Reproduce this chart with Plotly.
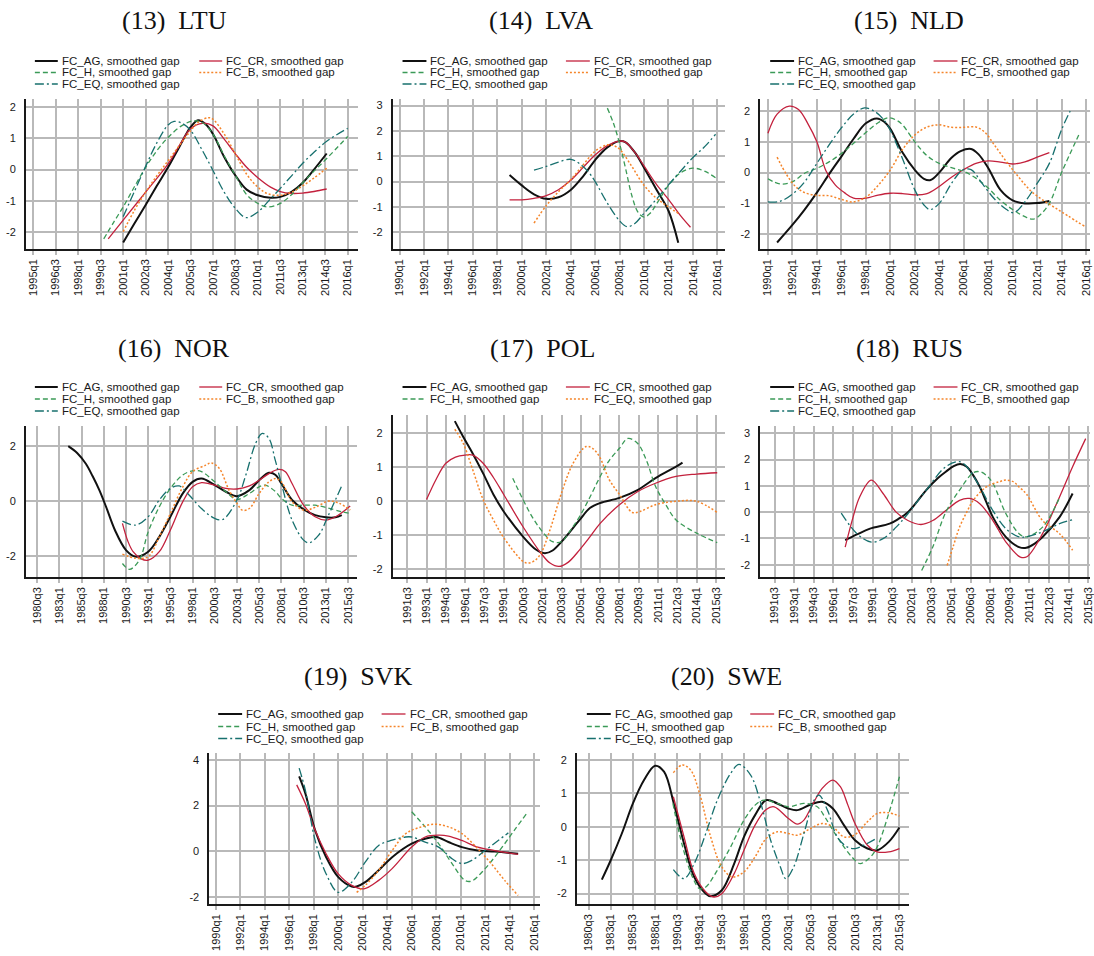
import plotly.graph_objects as go

W, H = 1094, 956

# ---------------- tick labels ----------------
TICKS_LTU = ["1995q1", "1996q3", "1998q1", "1999q3", "2001q1", "2002q3", "2004q1", "2005q3",
             "2007q1", "2008q3", "2010q1", "2011q3", "2013q1", "2014q3", "2016q1"]
TICKS_EVEN = ["1990q1", "1992q1", "1994q1", "1996q1", "1998q1", "2000q1", "2002q1", "2004q1",
              "2006q1", "2008q1", "2010q1", "2012q1", "2014q1", "2016q1"]
TICKS_80 = ["1980q3", "1983q1", "1985q3", "1988q1", "1990q3", "1993q1", "1995q3", "1998q1",
            "2000q3", "2003q1", "2005q3", "2008q1", "2010q3", "2013q1", "2015q3"]
TICKS_91 = ["1991q3", "1993q1", "1994q3", "1996q1", "1997q3", "1999q1", "2000q3", "2002q1",
            "2003q3", "2005q1", "2006q3", "2008q1", "2009q3", "2011q1", "2012q3", "2014q1", "2015q3"]

# ---------------- data: (year, smoothed gap) ----------------
LTU_AG = [(2001.0,-2.32),(2001.75,-1.72),(2002.5,-1.13),(2003.25,-0.52),(2004.0,0.07),(2004.75,0.72),
          (2005.5,1.35),(2006.0,1.57),(2006.5,1.45),(2007.0,1.13),(2007.75,0.4),(2008.5,-0.19),
          (2009.25,-0.64),(2010.0,-0.82),(2010.85,-0.9),(2011.5,-0.87),(2012.25,-0.71),(2013.0,-0.42),
          (2013.75,0.0),(2014.6,0.51)]
LTU_CR = [(2000.0,-2.21),(2001.0,-1.61),(2002.5,-0.72),(2004.0,0.18),(2004.8,0.8),(2005.5,1.3),
          (2006.3,1.47),(2007.0,1.39),(2007.75,0.97),(2008.5,0.5),(2009.25,0.07),(2010.0,-0.26),
          (2010.85,-0.56),(2011.5,-0.7),(2012.25,-0.76),(2013.0,-0.75),(2013.75,-0.7),(2014.6,-0.62)]
LTU_H = [(1999.7,-2.21),(2000.4,-1.65),(2001.0,-1.19),(2001.75,-0.55),(2002.5,0.07),(2003.25,0.6),
         (2004.0,1.02),(2004.9,1.39),(2005.7,1.55),(2006.3,1.49),(2007.0,1.13),(2007.75,0.44),
         (2008.5,-0.19),(2009.25,-0.8),(2010.0,-1.08),(2010.65,-1.19),(2011.5,-1.08),(2012.25,-0.8),
         (2013.0,-0.42),(2013.75,-0.05),(2014.6,0.35),(2016.0,1.05)]
LTU_B = [(2001.0,-1.98),(2001.75,-1.3),(2002.5,-0.72),(2003.25,-0.2),(2004.0,0.28),(2004.75,0.76),
         (2005.5,1.23),(2006.0,1.5),(2006.7,1.65),(2007.0,1.6),(2007.75,1.13),(2008.5,0.5),
         (2009.25,-0.15),(2010.0,-0.56),(2010.65,-0.77),(2011.5,-0.82),(2012.25,-0.72),(2013.0,-0.52),
         (2013.75,-0.27),(2014.6,0.04)]
LTU_EQ = [(2001.0,-1.5),(2001.75,-0.7),(2002.5,0.1),(2003.25,0.85),(2004.0,1.42),(2004.4,1.53),
          (2004.9,1.48),(2005.5,1.25),(2006.3,0.6),(2007.0,-0.03),(2007.75,-0.72),(2008.5,-1.24),
          (2009.2,-1.53),(2010.0,-1.35),(2010.85,-0.93),(2011.5,-0.6),(2012.25,-0.2),(2013.0,0.2),
          (2013.75,0.55),(2014.6,0.9),(2016.0,1.31)]

LVA_AG = [(1999.0,0.26),(2000.0,-0.15),(2001.0,-0.5),(2002.0,-0.68),(2003.0,-0.62),(2004.0,-0.33),
          (2005.0,0.2),(2006.0,0.85),(2007.0,1.35),(2008.0,1.6),(2008.5,1.55),(2009.25,1.15),
          (2010.0,0.55),(2011.0,-0.3),(2012.0,-1.15),(2012.8,-2.41)]
LVA_CR = [(1999.0,-0.72),(2000.0,-0.72),(2001.0,-0.66),(2002.0,-0.55),(2003.0,-0.32),(2004.0,0.05),
          (2005.0,0.55),(2006.0,1.05),(2007.0,1.42),(2008.0,1.6),(2008.5,1.55),(2009.25,1.15),
          (2010.0,0.62),(2011.0,-0.1),(2012.0,-0.7),(2013.0,-1.35),(2013.8,-1.8)]
LVA_H = [(2007.0,2.9),(2007.5,2.3),(2008.0,1.5),(2008.5,0.5),(2009.0,-0.55),(2009.5,-1.2),
         (2010.0,-1.4),(2010.5,-1.25),(2011.0,-0.9),(2012.0,-0.15),(2013.0,0.35),(2014.0,0.53),
         (2015.0,0.4),(2015.85,0.15)]
LVA_B = [(2001.0,-1.64),(2002.0,-0.95),(2003.0,-0.4),(2004.0,0.07),(2005.0,0.65),(2006.0,1.2),
         (2007.0,1.45),(2007.5,1.42),(2008.0,1.28),(2009.0,0.6),(2010.0,-0.15),(2011.0,-0.65),
         (2012.0,-1.0),(2012.8,-1.25)]
LVA_EQ = [(2001.0,0.45),(2002.0,0.6),(2003.0,0.77),(2004.0,0.88),(2004.75,0.7),(2005.5,0.35),
          (2006.0,0.0),(2007.0,-0.85),(2008.0,-1.55),(2008.6,-1.78),(2009.25,-1.65),(2010.0,-1.25),
          (2011.0,-0.7),(2012.0,-0.13),(2013.0,0.42),(2014.0,0.95),(2015.0,1.4),(2015.85,1.87)]

NLD_AG = [(1990.75,-2.27),(1992.0,-1.7),(1993.0,-1.2),(1994.0,-0.65),(1995.0,-0.05),(1996.0,0.52),
          (1997.0,1.1),(1998.0,1.6),(1998.9,1.76),(1999.5,1.65),(2000.0,1.42),(2001.0,0.65),
          (2002.0,0.09),(2002.75,-0.2),(2003.3,-0.24),(2004.0,0.0),(2005.0,0.48),(2005.75,0.7),
          (2006.6,0.77),(2007.2,0.6),(2008.0,0.15),(2009.0,-0.56),(2010.0,-0.9),(2011.0,-1.0),
          (2012.0,-0.99),(2013.0,-0.92)]
NLD_CR = [(1990.0,1.28),(1990.75,1.9),(1991.75,2.16),(1992.5,2.05),(1993.25,1.6),(1994.0,1.0),
          (1994.75,0.05),(1995.5,-0.4),(1996.25,-0.65),(1997.0,-0.83),(1998.0,-0.83),(1999.0,-0.73),
          (2000.0,-0.67),(2001.0,-0.68),(2002.0,-0.72),(2003.0,-0.68),(2004.0,-0.45),(2005.0,-0.15),
          (2006.0,0.1),(2007.0,0.3),(2008.0,0.38),(2009.0,0.34),(2010.0,0.28),(2011.0,0.35),
          (2012.0,0.5),(2013.0,0.65)]
NLD_H = [(1990.0,-0.2),(1991.0,-0.37),(1992.0,-0.3),(1993.0,-0.02),(1994.0,0.14),(1995.0,0.35),
         (1996.0,0.62),(1997.0,0.95),(1998.0,1.3),(1999.0,1.62),(1999.85,1.78),(2000.5,1.7),
         (2001.0,1.55),(2002.0,1.0),(2003.0,0.55),(2004.0,0.3),(2005.0,0.16),(2006.0,0.04),
         (2007.0,-0.18),(2008.0,-0.5),(2009.0,-0.9),(2010.0,-1.2),(2011.0,-1.43),(2011.7,-1.51),
         (2012.3,-1.35),(2013.0,-1.0),(2014.0,0.0),(2015.4,1.22)]
NLD_B = [(1990.75,0.5),(1991.5,-0.05),(1992.25,-0.45),(1993.0,-0.65),(1994.0,-0.74),(1995.0,-0.75),
         (1996.0,-0.87),(1997.0,-0.95),(1998.0,-0.8),(1999.0,-0.42),(2000.0,0.09),(2001.0,0.75),
         (2002.0,1.22),(2003.0,1.48),(2004.0,1.55),(2005.0,1.47),(2006.0,1.47),(2007.0,1.48),
         (2007.75,1.3),(2008.5,0.9),(2009.5,0.35),(2010.5,-0.15),(2011.5,-0.6),(2012.5,-0.9),
         (2013.5,-1.15),(2014.5,-1.4),(2015.9,-1.75)]
NLD_EQ = [(1990.0,-0.95),(1991.0,-0.93),(1992.0,-0.7),(1993.0,-0.3),(1994.0,0.3),(1995.0,0.9),
          (1996.0,1.45),(1997.0,1.9),(1997.9,2.1),(1998.75,1.98),(1999.5,1.7),(2000.0,1.38),
          (2001.0,0.45),(2002.0,-0.56),(2002.75,-1.05),(2003.25,-1.2),(2004.0,-1.0),(2005.0,-0.35),
          (2005.9,0.08),(2006.6,0.1),(2007.5,-0.35),(2008.5,-0.85),(2009.5,-1.2),(2010.1,-1.3),
          (2011.0,-0.95),(2012.0,-0.35),(2013.0,0.3),(2014.0,1.4),(2014.7,2.0)]

NOR_AG = [(1984.0,2.0),(1985.0,1.75),(1986.0,1.35),(1986.75,0.9),(1987.5,0.4),(1988.25,-0.2),
          (1989.25,-1.05),(1990.5,-1.78),(1991.6,-2.02),(1993.0,-1.84),(1994.25,-1.3),(1995.5,-0.57),
          (1996.9,0.28),(1998.0,0.7),(1999.0,0.82),(2000.5,0.58),(2001.75,0.34),(2003.0,0.18),
          (2004.4,0.4),(2005.5,0.76),(2006.6,1.03),(2007.35,0.95),(2008.0,0.64),(2009.2,0.04),
          (2010.5,-0.3),(2011.8,-0.51),(2013.0,-0.59),(2014.1,-0.59),(2014.8,-0.51)]
NOR_CR = [(1990.1,-0.81),(1990.7,-1.45),(1991.3,-1.84),(1992.2,-2.1),(1993.0,-2.15),(1994.25,-1.84),
          (1995.5,-1.05),(1996.9,-0.02),(1998.0,0.52),(1999.0,0.67),(2000.5,0.58),(2001.75,0.46),
          (2003.0,0.44),(2004.4,0.55),(2005.5,0.76),(2006.6,1.0),(2007.7,1.15),(2008.45,1.07),
          (2009.2,0.64),(2010.5,-0.15),(2011.8,-0.57),(2013.0,-0.69),(2014.1,-0.57),(2015.75,-0.18)]
NOR_H = [(1990.1,-2.27),(1990.9,-2.48),(1992.0,-2.15),(1993.0,-1.12),(1994.25,-0.21),(1995.5,0.46),
         (1996.9,0.95),(1998.0,1.1),(1999.0,1.07),(2000.5,0.7),(2001.75,0.34),(2003.0,0.06),
         (2004.4,0.28),(2005.5,0.52),(2006.2,0.58),(2007.35,0.34),(2008.0,0.1),(2009.2,-0.15),
         (2010.5,-0.15),(2011.8,-0.15),(2013.0,-0.23),(2014.8,-0.39),(2015.75,-0.45)]
NOR_B = [(1990.1,-1.93),(1991.6,-2.08),(1993.0,-2.02),(1994.25,-1.3),(1995.5,-0.45),(1996.9,0.52),
         (1998.0,1.07),(1999.5,1.31),(2000.1,1.39),(2001.0,1.19),(2002.1,0.4),(2003.0,-0.08),
         (2003.6,-0.33),(2004.4,-0.27),(2005.5,0.28),(2006.6,0.7),(2007.35,0.82),(2008.0,0.7),
         (2009.2,-0.02),(2010.5,-0.33),(2011.8,-0.23),(2013.3,0.0),(2014.5,-0.08),(2015.75,-0.33)]
NOR_EQ = [(1990.1,-0.73),(1991.6,-0.87),(1993.0,-0.57),(1994.25,0.04),(1995.5,0.46),(1996.5,0.55),
          (1997.6,0.22),(1999.0,-0.27),(2000.5,-0.63),(2001.4,-0.67),(2003.0,0.04),(2004.0,0.95),
          (2005.1,2.1),(2005.85,2.46),(2006.6,2.28),(2007.3,1.5),(2008.0,0.64),(2009.2,-0.69),
          (2010.5,-1.42),(2011.1,-1.52),(2012.2,-1.24),(2013.3,-0.51),(2014.75,0.52)]

POL_AG = [(1995.2,2.36),(1995.85,1.9),(1996.6,1.4),(1997.4,0.82),(1998.2,0.2),(1999.0,-0.3),
          (2000.5,-1.04),(2001.5,-1.42),(2002.2,-1.53),(2002.8,-1.45),(2003.5,-1.19),(2004.9,-0.55),
          (2005.7,-0.2),(2006.5,-0.05),(2008.0,0.1),(2009.4,0.33),(2010.8,0.68),(2012.4,1.02),
          (2012.9,1.14)]
POL_CR = [(1993.0,0.05),(1993.75,0.65),(1994.5,1.12),(1995.25,1.3),(1996.0,1.36),(1996.6,1.36),
          (1997.4,1.12),(1998.2,0.7),(1999.0,0.2),(2000.5,-0.75),(2001.9,-1.53),(2002.6,-1.82),
          (2003.3,-1.92),(2004.0,-1.8),(2004.9,-1.43),(2005.7,-1.05),(2006.5,-0.65),(2008.0,-0.1),
          (2009.4,0.28),(2010.8,0.53),(2012.4,0.73),(2014.0,0.8),(2015.6,0.84)]
POL_H = [(1999.7,0.68),(2000.5,0.05),(2001.2,-0.45),(2001.9,-0.84),(2002.8,-1.19),(2003.5,-1.19),
         (2004.2,-0.85),(2004.9,-0.45),(2005.7,0.12),(2006.5,0.73),(2007.2,1.2),(2008.0,1.56),
         (2008.65,1.85),(2009.4,1.71),(2010.1,1.2),(2010.8,0.44),(2011.6,-0.1),(2012.4,-0.55),
         (2014.0,-0.94),(2015.6,-1.22)]
POL_EQ = [(1995.2,2.12),(1995.85,1.71),(1996.6,0.92),(1997.4,0.05),(1998.2,-0.55),(1999.0,-1.07),
          (2000.5,-1.77),(2000.9,-1.82),(2001.4,-1.75),(2001.9,-1.53),(2002.6,-0.84),(2003.5,0.25),
          (2004.4,1.12),(2005.4,1.61),(2005.9,1.56),(2006.45,1.31),(2007.2,0.64),(2008.0,0.2),
          (2009.0,-0.33),(2009.6,-0.3),(2010.8,-0.1),(2012.4,0.0),(2014.0,0.0),(2015.6,-0.33)]

RUS_AG = [(1996.9,-1.07),(1997.8,-0.85),(1998.8,-0.63),(2000.3,-0.44),(2001.0,-0.25),(2001.7,0.0),
          (2002.4,0.4),(2003.1,0.84),(2004.0,1.3),(2004.6,1.54),(2005.2,1.75),(2005.7,1.83),
          (2006.2,1.73),(2006.7,1.4),(2007.2,0.96),(2007.7,0.38),(2008.2,-0.19),(2009.2,-0.95),
          (2010.2,-1.33),(2010.75,-1.36),(2011.4,-1.2),(2012.0,-0.95),(2013.3,-0.19),(2014.3,0.71)]
RUS_CR = [(1996.9,-1.33),(1997.5,-0.2),(1998.0,0.57),(1998.9,1.22),(1999.8,0.71),(2000.8,0.0),
          (2001.7,-0.32),(2002.7,-0.47),(2003.6,-0.32),(2004.6,0.06),(2005.65,0.45),(2006.4,0.52),
          (2007.2,0.32),(2008.2,-0.32),(2009.2,-1.14),(2010.3,-1.71),(2010.8,-1.7),(2012.0,-0.82),
          (2013.3,0.58),(2014.3,1.73),(2015.3,2.8)]
RUS_H = [(2002.75,-2.22),(2003.6,-1.33),(2004.6,0.0),(2005.65,0.84),(2006.7,1.5),(2007.2,1.54),
         (2007.7,1.4),(2008.2,1.1),(2009.2,-0.06),(2010.2,-0.82),(2010.75,-0.94),(2012.0,-0.57),
         (2013.3,0.55)]
RUS_B = [(2004.7,-2.03),(2005.2,-1.25),(2005.65,-0.57),(2006.2,0.0),(2006.7,0.45),(2007.7,0.96),
         (2008.7,1.16),(2009.2,1.22),(2009.8,1.15),(2010.2,0.96),(2010.75,0.7),(2012.0,-0.32),
         (2013.3,-0.82),(2014.3,-1.45)]
RUS_EQ = [(1996.6,-0.04),(1997.8,-0.82),(1998.9,-1.14),(1999.8,-1.01),(2000.8,-0.57),(2001.7,-0.06),
          (2003.1,0.84),(2004.6,1.73),(2005.65,1.92),(2006.2,1.73),(2007.2,0.96),(2008.2,0.06),
          (2009.2,-0.63),(2010.2,-0.94),(2010.75,-0.94),(2012.0,-0.75),(2013.3,-0.44),(2014.3,-0.29)]

SVK_AG = [(1996.8,3.27),(1997.3,2.54),(1998.1,0.93),(1999.0,-0.24),(2000.0,-1.12),(2001.1,-1.53),
          (2001.5,-1.53),(2002.2,-1.34),(2003.3,-0.82),(2004.4,-0.25),(2006.0,0.34),(2007.1,0.55),
          (2008.0,0.63),(2009.0,0.41),(2010.1,0.19),(2011.4,0.04),(2012.8,0.0),(2014.7,-0.1)]
SVK_CR = [(1996.6,2.9),(1997.3,2.1),(1998.1,0.93),(1999.0,-0.1),(2000.0,-0.98),(2001.1,-1.48),
          (2002.1,-1.63),(2003.3,-1.26),(2004.4,-0.75),(2006.0,0.19),(2007.1,0.63),(2008.2,0.71),
          (2009.0,0.67),(2010.1,0.48),(2011.4,0.19),(2012.8,0.04),(2014.7,-0.13)]
SVK_H = [(2006.0,1.73),(2007.1,1.07),(2008.2,0.34),(2009.3,-0.53),(2010.35,-1.26),(2010.9,-1.29),
         (2012.0,-0.75),(2013.3,0.12),(2014.4,0.93),(2015.5,1.73)]
SVK_B = [(2001.5,-1.78),(2002.2,-1.48),(2003.3,-0.82),(2004.4,0.04),(2005.5,0.77),(2006.6,1.04),
         (2007.9,1.19),(2009.0,1.07),(2010.1,0.78),(2011.4,0.12),(2012.5,-0.53),(2013.6,-1.26),
         (2014.7,-1.92)]
SVK_EQ = [(1996.8,3.63),(1997.3,2.68),(1998.1,0.49),(1999.0,-0.97),(2000.0,-1.78),(2001.1,-1.34),
          (2002.2,-0.47),(2003.3,0.26),(2004.4,0.49),(2005.5,0.63),(2006.0,0.63),(2007.1,0.41),
          (2008.2,0.19),(2009.3,-0.32),(2010.1,-0.53),(2010.9,-0.39),(2012.0,0.04),(2013.1,0.49),
          (2013.9,0.81)]

SWE_AG = [(1982.0,-1.58),(1983.0,-1.0),(1984.25,-0.2),(1985.5,0.7),(1986.75,1.4),(1988.0,1.83),
          (1989.0,1.65),(1990.1,0.7),(1991.25,-0.5),(1992.4,-1.5),(1993.7,-2.0),(1994.25,-2.08),
          (1995.5,-1.9),(1996.9,-1.1),(1998.0,-0.3),(1999.25,0.35),(2000.5,0.8),(2001.75,0.7),
          (2003.0,0.55),(2004.0,0.5),(2005.5,0.67),(2006.8,0.75),(2008.0,0.55),(2009.25,0.05),
          (2010.5,-0.4),(2011.9,-0.65),(2013.0,-0.7),(2014.3,-0.45),(2015.5,-0.02)]
SWE_CR = [(1990.05,0.9),(1991.25,-0.3),(1992.4,-1.4),(1993.7,-1.95),(1994.6,-2.1),(1995.5,-2.0),
          (1996.9,-1.4),(1998.0,-0.7),(1999.25,0.05),(2000.5,0.52),(2001.4,0.6),(2003.0,0.25),
          (2004.0,0.08),(2004.75,0.2),(2005.5,0.55),(2006.8,1.15),(2008.0,1.4),(2008.85,1.2),
          (2009.7,0.65),(2010.5,0.1),(2011.9,-0.55),(2013.0,-0.75),(2014.3,-0.75),(2015.5,-0.65)]
SWE_H = [(1990.0,0.7),(1991.1,-0.6),(1992.2,-1.5),(1993.0,-1.85),(1993.7,-1.8),(1995.0,-1.3),
         (1996.5,-0.6),(1998.0,0.2),(1999.25,0.65),(2000.25,0.8),(2001.75,0.7),(2003.0,0.6),
         (2004.75,0.7),(2006.25,0.6),(2007.1,0.3),(2008.0,-0.1),(2009.25,-0.6),(2010.5,-1.0),
         (2011.1,-1.1),(2012.25,-0.9),(2013.0,-0.6),(2014.3,0.4),(2015.5,1.5)]
SWE_B = [(1990.05,1.62),(1991.05,1.85),(1992.0,1.7),(1993.0,1.0),(1994.25,-0.3),(1995.5,-1.2),
         (1996.7,-1.5),(1998.0,-1.35),(1999.25,-0.9),(2000.5,-0.35),(2001.75,-0.15),(2003.0,-0.2),
         (2004.0,-0.25),(2005.5,-0.05),(2006.8,0.1),(2008.0,0.0),(2009.25,-0.3),(2010.4,-0.25),
         (2011.9,0.15),(2013.0,0.4),(2014.3,0.42),(2015.5,0.32)]
SWE_EQ = [(1990.05,-1.28),(1991.25,-1.55),(1992.4,-1.1),(1993.7,-0.2),(1995.0,0.8),(1996.5,1.6),
          (1997.45,1.87),(1998.75,1.55),(1999.9,0.7),(2001.0,-0.4),(2002.1,-1.2),(2002.7,-1.55),
          (2003.6,-1.2),(2004.75,-0.2),(2005.9,0.8),(2006.45,0.95),(2007.4,0.5),(2008.5,-0.3),
          (2009.6,-0.6),(2010.5,-0.65),(2011.5,-0.55),(2012.9,-0.35)]

# ---------------- styles ----------------
STYLE = {
    "AG": dict(color="#111111", width=2.0, dash="solid"),
    "CR": dict(color="#c3213d", width=1.3, dash="solid"),
    "H":  dict(color="#3b9a57", width=1.3, dash="5px,3px"),
    "EQ": dict(color="#17706e", width=1.3, dash="9px,3px,2px,3px"),
    "B":  dict(color="#f5852a", width=1.5, dash="2px,2px"),
}
SUFFIX = ", smoothed gap"
FIVE = lambda c: [("FC_AG", "AG", c + "_AG"), ("FC_CR", "CR", c + "_CR"), ("FC_H", "H", c + "_H"),
                  ("FC_B", "B", c + "_B"), ("FC_EQ", "EQ", c + "_EQ")]
DATA = {k: v for k, v in globals().items() if k[:3] in ("LTU", "LVA", "NLD", "NOR", "POL", "RUS", "SVK", "SWE")}

LEG_A = dict(lx=(35, 58), rx=(200, 223))
LEG_B = dict(lx=(404, 428), rx=(568, 592))
LEG_C = dict(lx=(773, 797), rx=(937, 961))
ROWS1, ROWS2, ROWS3 = (61, 72.5, 84), (387, 399, 411), (714, 726.5, 738.5)

panels = [
    dict(title="(13)  LTU", tc=(175, 20), ticks=TICKS_LTU, yt=[-2, -1, 0, 1, 2], dx=(26, 359), dy=(99, 249),
         xr=(1994.5, 2016.67), yr=(-2.53, 2.245), leg=LEG_A, rows=ROWS1, series=FIVE("LTU")),
    dict(title="(14)  LVA", tc=(543, 20), ticks=TICKS_EVEN, yt=[-2, -1, 0, 1, 2, 3], dx=(394, 728), dy=(99, 249),
         xr=(1989.43, 2016.65), yr=(-2.66, 3.26), leg=LEG_B, rows=ROWS1, series=FIVE("LVA")),
    dict(title="(15)  NLD", tc=(912, 20), ticks=TICKS_EVEN, yt=[-2, -1, 0, 1, 2], dx=(763, 1094), dy=(99, 249),
         xr=(1989.37, 2016.32), yr=(-2.48, 2.39), leg=LEG_C, rows=ROWS1, series=FIVE("NLD")),
    dict(title="(16)  NOR", tc=(175, 348), ticks=TICKS_80, yt=[-2, 0, 2], dx=(26, 358), dy=(426, 577),
         xr=(1979.23, 2016.48), yr=(-2.76, 2.73), leg=LEG_A, rows=ROWS2, series=FIVE("NOR")),
    dict(title="(17)  POL", tc=(544, 348), ticks=TICKS_91, yt=[-2, -1, 0, 1, 2], dx=(394, 728), dy=(415, 577),
         xr=(1990.36, 2016.23), yr=(-2.23, 2.54), leg=LEG_B, rows=ROWS2,
         series=[("FC_AG", "AG", "POL_AG"), ("FC_CR", "CR", "POL_CR"), ("FC_H", "H", "POL_H"),
                 ("FC_EQ", "B", "POL_EQ")]),
    dict(title="(18)  RUS", tc=(913, 348), ticks=TICKS_91, yt=[-2, -1, 0, 1, 2, 3], dx=(763, 1094), dy=(426, 577),
         xr=(1990.4, 2015.63), yr=(-2.47, 3.28), leg=LEG_C, rows=ROWS2, series=FIVE("RUS")),
    dict(title="(19)  SVK", tc=(360, 676), ticks=TICKS_EVEN, yt=[-2, 0, 2, 4], dx=(210, 542), dy=(753, 904),
         xr=(1989.45, 2016.49), yr=(-2.29, 4.29), leg=dict(lx=(219, 243), rx=(383, 407)), rows=ROWS3,
         series=FIVE("SVK")),
    dict(title="(20)  SWE", tc=(729, 676), ticks=TICKS_80, yt=[-2, -1, 0, 1, 2], dx=(579, 912), dy=(753, 904),
         xr=(1979.19, 2016.54), yr=(-2.31, 2.21), leg=dict(lx=(589, 613), rx=(753, 777)), rows=ROWS3,
         series=FIVE("SWE")),
]


def qnum(s):
    y, q = s.split("q")
    return int(y) + (int(q) - 1) / 4.0


fig = go.Figure()
layout = dict(width=W, height=H, margin=dict(l=0, r=0, t=0, b=0), showlegend=False,
              plot_bgcolor="white", paper_bgcolor="white")
annotations, shapes = [], []
GRID = "#b9b9b9"
TICKFONT = dict(family="Liberation Sans, Arial, sans-serif", size=11, color="#1a1a1a")

for i, p in enumerate(panels):
    n = "" if i == 0 else str(i + 1)
    xa, ya = "xaxis" + n, "yaxis" + n
    layout[xa] = dict(domain=[p["dx"][0] / W, p["dx"][1] / W], range=list(p["xr"]), anchor="y" + n,
                      tickmode="array", tickvals=[qnum(t) for t in p["ticks"]], ticktext=p["ticks"],
                      tickangle=-90, tickfont=TICKFONT, showgrid=True, gridcolor=GRID, gridwidth=1.5,
                      showline=True, linecolor="#1a1a1a", linewidth=1.6, zeroline=False,
                      ticks="outside", ticklen=4, tickcolor=GRID, tickwidth=1.5,
                      ticklabeloverflow="allow")
    layout[ya] = dict(domain=[1 - p["dy"][1] / H, 1 - p["dy"][0] / H], range=list(p["yr"]), anchor="x" + n,
                      tickmode="array", tickvals=p["yt"], ticktext=[str(v) for v in p["yt"]],
                      tickfont=TICKFONT, showgrid=True, gridcolor=GRID, gridwidth=1.5,
                      showline=True, linecolor="#1a1a1a", linewidth=1.6, zeroline=False,
                      ticks="", ticklabelstandoff=6)
    # curves
    for label, sty, key in p["series"]:
        pts = DATA[key]
        st = STYLE[sty]
        fig.add_trace(go.Scatter(x=[a for a, b in pts], y=[b for a, b in pts], mode="lines",
                                 line=dict(color=st["color"], width=st["width"], dash=st["dash"],
                                           shape="spline", smoothing=1.0),
                                 xaxis="x" + n, yaxis="y" + n, name=label, hoverinfo="skip"))
    # title
    annotations.append(dict(text=p["title"].replace(" ", "\u00a0"), x=p["tc"][0] / W, y=1 - p["tc"][1] / H,
                            xref="paper", yref="paper", xanchor="center", yanchor="middle", showarrow=False,
                            font=dict(family="Liberation Serif, Times New Roman, serif", size=26, color="#111")))
    # legend (2 columns)
    for k, (label, sty, key) in enumerate(p["series"]):
        col = "lx" if k % 2 == 0 else "rx"
        x0, x1 = p["leg"][col]
        yy = 1 - p["rows"][k // 2] / H
        st = STYLE[sty]
        shapes.append(dict(type="line", xref="paper", yref="paper", x0=x0 / W, x1=x1 / W, y0=yy, y1=yy,
                           line=dict(color=st["color"], width=max(st["width"], 1.3) if sty != "AG" else 2,
                                     dash=st["dash"])))
        annotations.append(dict(text=label + SUFFIX, x=(x1 + 2) / W, y=yy, xref="paper", yref="paper",
                                xanchor="left", yanchor="middle", showarrow=False,
                                font=dict(family="Liberation Sans, Arial, sans-serif", size=11.5,
                                          color="#1a1a1a")))

layout["annotations"] = annotations
layout["shapes"] = shapes
fig.update_layout(**layout)
fig.write_html("out.html")
